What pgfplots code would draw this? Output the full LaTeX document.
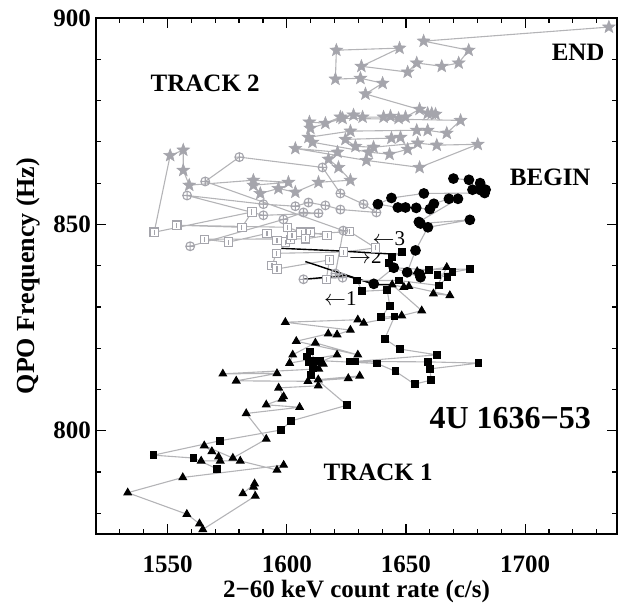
\documentclass[border=0pt]{standalone}
\usepackage{fontspec}
\setmainfont{Liberation Serif}
\usepackage{pgfplots}
\pgfplotsset{compat=1.18}
\definecolor{mgray}{RGB}{165,165,172}
\definecolor{lgray}{RGB}{180,180,183}
\pgfdeclareplotmark{fstar}{%
  \pgfpathmoveto{\pgfpointpolar{90}{\pgfplotmarksize}}%
  \pgfpathlineto{\pgfpointpolar{126}{0.42\pgfplotmarksize}}%
  \pgfpathlineto{\pgfpointpolar{162}{\pgfplotmarksize}}%
  \pgfpathlineto{\pgfpointpolar{198}{0.42\pgfplotmarksize}}%
  \pgfpathlineto{\pgfpointpolar{234}{\pgfplotmarksize}}%
  \pgfpathlineto{\pgfpointpolar{270}{0.42\pgfplotmarksize}}%
  \pgfpathlineto{\pgfpointpolar{306}{\pgfplotmarksize}}%
  \pgfpathlineto{\pgfpointpolar{342}{0.42\pgfplotmarksize}}%
  \pgfpathlineto{\pgfpointpolar{18}{\pgfplotmarksize}}%
  \pgfpathlineto{\pgfpointpolar{54}{0.42\pgfplotmarksize}}%
  \pgfpathclose\pgfusepathqfillstroke}
\pgfdeclareplotmark{boxplus}{%
  \pgfpathrectangle{\pgfpoint{-\pgfplotmarksize}{-\pgfplotmarksize}}{\pgfpoint{2\pgfplotmarksize}{2\pgfplotmarksize}}%
  \pgfusepathqfillstroke
  \pgfpathmoveto{\pgfpoint{0pt}{-0.6\pgfplotmarksize}}%
  \pgfpathlineto{\pgfpoint{0pt}{0.6\pgfplotmarksize}}%
  \pgfusepathqstroke}
\begin{document}
\begin{tikzpicture}
\begin{axis}[
  scale only axis, width=260.5pt, height=258pt,
  xmin=1520, xmax=1738.5, ymin=775, ymax=900,
  xtick={1550,1600,1650,1700}, ytick={800,850,900},
  minor xtick={1530,1540,...,1730}, minor ytick={780,790,...,890},
  tick align=inside, major tick length=5pt, minor tick length=2.6pt,
  axis line style={line width=0.9pt},
  every tick/.style={black, line width=0.6pt},
  /pgf/number format/assume math mode=true,
  /pgf/number format/1000 sep={},
  xticklabel style={font=\fontsize{12.5}{14}\selectfont\bfseries, anchor=base, yshift=-19.25pt},
  yticklabel style={font=\fontsize{12.5}{14}\selectfont\bfseries, xshift=1pt},
  xlabel={2−60 keV count rate (c/s)},
  ylabel={QPO Frequency (Hz)},
  xlabel style={font=\fontsize{12.5}{14}\selectfont\bfseries, at={(axis description cs:0.5,-0.112)}, anchor=center},
  ylabel style={font=\fontsize{13}{15}\selectfont\bfseries, at={(axis description cs:-0.1305,0.5)}, anchor=center},
]
% gray squares (track 2)
\addplot[color=lgray, line width=0.55pt, mark=boxplus, mark size=2.1pt, mark options={draw=mgray, fill=white, line width=0.55pt}] coordinates {
(1544.4,848.1) (1585.4,853.0) (1581.2,849.3) (1553.9,849.8) (1600.3,849.3) (1606.0,848.1) (1609.9,848.1) (1616.9,847.3) (1607.8,846.5) (1565.4,846.4) (1575.5,845.7) (1591.7,847.8) (1595.9,846.1) (1599.4,845.7) (1601.5,846.3) (1602.2,847.3) (1626.3,848.3) (1637.2,844.3) (1623.8,843.3) (1595.6,843.0) (1593.8,840.0) (1595.9,839.2) (1617.9,841.4) (1616.6,836.7)
};
% gray circles
\addplot[color=lgray, line width=0.55pt, mark=oplus, mark size=2.2pt, mark options={draw=mgray, fill=white, line width=0.55pt}] coordinates {
(1559.5,844.7) (1598.6,851.2) (1607.0,852.9) (1613.3,852.7) (1590.2,852.2) (1558.2,857.0) (1590.2,854.9) (1603.6,854.4) (1609.1,855.3) (1616.2,854.6) (1622.5,853.6) (1637.6,852.9) (1632.2,854.9) (1622.5,857.5) (1615.0,863.8) (1580.1,866.3) (1565.8,860.4) (1623.7,848.5) (1620.4,838.1) (1623.4,837.1) (1607.0,836.7)
};
\addplot[color=lgray, line width=0.55pt] coordinates {(1544.4,848.1) (1551.1,866.7)};
% gray stars
\addplot[color=lgray, line width=0.55pt, mark=fstar, mark size=3.3pt, mark options={draw=mgray, fill=mgray, line width=0.3pt}] coordinates {
(1551.1,866.7) (1556.6,868.0) (1556.6,863.1) (1559.1,859.5) (1586.0,860.7) (1600.7,860.2) (1586.0,859.5) (1588.9,857.5) (1596.5,858.7) (1603.6,857.8) (1613.3,860.2) (1626.7,860.7) (1621.7,863.8) (1617.5,865.8) (1621.3,867.5) (1603.6,868.4) (1633.4,865.5) (1655.7,863.8) (1680.1,869.4) (1662.9,869.2) (1654.9,869.7) (1636.4,868.7) (1628.8,868.9) (1624.6,870.6) (1643.9,870.9) (1647.7,871.1) (1650.7,868.2) (1643.1,867.0) (1634.3,867.5) (1610.8,869.9) (1609.1,871.1) (1626.7,872.6) (1654.5,872.8) (1659.1,872.8) (1667.1,872.1) (1672.9,875.2) (1623.4,875.7) (1609.9,873.3) (1609.5,874.8) (1616.2,874.5) (1622.5,876.0) (1628.0,876.5) (1631.8,876.0) (1640.6,876.0) (1643.5,876.2) (1646.9,875.7) (1649.8,876.0) (1655.7,877.9) (1659.1,876.9) (1660.8,876.9) (1662.4,876.7) (1633.0,881.6) (1640.2,884.2) (1630.9,885.4) (1620.4,885.2) (1620.8,892.2) (1647.3,892.7) (1631.3,888.3) (1650.7,886.9) (1654.5,889.1) (1665.0,888.3) (1672.1,889.1) (1676.3,892.2) (1657.4,894.4) (1735.1,897.8)
};
% black connecting lines 1,2,3
\addplot[black, line width=0.7pt] coordinates {(1597.7,844.2) (1621.0,843.6) (1647.7,842.7)};
\addplot[black, line width=0.7pt] coordinates {(1607.8,841.0) (1637.2,835.4) (1644.2,835.4)};
\addplot[black, line width=0.7pt] coordinates {(1607.0,836.7) (1624.6,837.6) (1636.5,835.6)};
% black squares
\addplot[color=lgray, line width=0.55pt, mark=square*, mark size=1.7pt, mark options={draw=black, fill=black}] coordinates {
(1648.4,843.4) (1644.2,842.1) (1642.8,840.6) (1644.7,839.5) (1659.6,839.0) (1676.8,839.2) (1669.5,838.4) (1663.2,837.8) (1667.4,837.2) (1663.8,835.2) (1647.0,836.4) (1629.5,836.4) (1631.6,833.8) (1642.1,834.1) (1643.2,830.3) (1639.6,827.5) (1645.2,827.7) (1641.1,822.3) (1647.4,819.8) (1662.9,818.4) (1628.8,816.8) (1626.7,816.8) (1659.2,816.7) (1680.4,816.4) (1660.0,815.0) (1660.6,812.3) (1653.6,811.3) (1645.6,814.4) (1637.9,816.3) (1613.8,817.0) (1612.0,817.0) (1609.9,819.2) (1608.5,818.0) (1609.2,816.6) (1611.1,815.1) (1610.2,813.6) (1625.3,806.2) (1601.9,802.4) (1597.6,800.2) (1572.1,797.6) (1544.1,794.1) (1560.9,793.4) (1570.7,790.8)
};
% black triangles
\addplot[color=lgray, line width=0.55pt, mark=triangle*, mark size=2.1pt, mark options={draw=black, fill=black}] coordinates {
(1654.7,838.6) (1667.1,839.6) (1661.5,833.2) (1668.4,832.8) (1651.2,835.0) (1649.1,834.8) (1644.2,835.4) (1656.6,829.1) (1648.2,827.9) (1632.3,826.1) (1629.8,826.9) (1599.4,826.3) (1626.7,824.4) (1621.1,823.3) (1617.4,823.5) (1604.0,821.7) (1629.8,818.4) (1612.0,821.3) (1602.5,818.4) (1601.2,816.4) (1621.1,818.4) (1611.3,816.0) (1615.3,816.2) (1613.4,815.0) (1573.2,813.8) (1595.9,813.9) (1578.8,812.1) (1608.9,812.0) (1625.8,812.7) (1630.6,813.3) (1613.2,812.4) (1613.2,810.9) (1596.6,810.4) (1598.7,808.3) (1598.0,807.7) (1591.4,806.3) (1605.4,805.7) (1583.0,804.2) (1591.4,798.0) (1577.4,793.4) (1565.4,796.4) (1568.6,795.0) (1571.4,793.7) (1572.1,792.7) (1564.1,792.7) (1580.5,792.7) (1595.9,790.5) (1598.7,791.7) (1556.4,788.7) (1533.3,785.0) (1558.1,779.8) (1563.4,777.5) (1564.8,776.1) (1586.8,784.2) (1586.1,786.4) (1586.5,787.2) (1581.6,784.8)
};
% black circles
\addplot[color=lgray, line width=0.55pt, mark=*, mark size=2.4pt, mark options={draw=black, fill=black}] coordinates {
(1669.9,861.1) (1676.4,860.8) (1677.9,858.4) (1681.3,858.3) (1681.1,860.0) (1683.4,858.4) (1683.0,857.6) (1657.5,857.5) (1643.9,856.4) (1638.2,854.9) (1646.6,854.1) (1649.8,854.1) (1654.3,854.0) (1660.0,853.7) (1661.7,855.0) (1668.0,856.2) (1671.8,856.2) (1655.4,850.6) (1656.1,850.2) (1676.8,851.1) (1659.2,849.3) (1654.0,843.7) (1650.5,838.4) (1655.8,837.9) (1656.1,837.2) (1644.9,839.5) (1636.5,835.6)
};
% labels
\node[font=\fontsize{12.5}{14}\selectfont\bfseries] at (axis cs:1565.8,884.2) {TRACK 2};
\node[font=\fontsize{12.5}{14}\selectfont\bfseries] at (axis cs:1722.2,891.6) {END};
\node[font=\fontsize{12.5}{14}\selectfont\bfseries] at (axis cs:1710.5,861.5) {BEGIN};
\node[font=\fontsize{12.5}{14}\selectfont\bfseries] at (axis cs:1638.3,789.9) {TRACK 1};
\node[font=\fontsize{16}{18}\selectfont\bfseries] at (axis cs:1693.7,803.2) {4U 1636−53};
\node[font=\fontsize{10.5}{12}\selectfont] at (axis cs:1642.8,846.5) {$\leftarrow$3};
\node[font=\fontsize{10.5}{12}\selectfont] at (axis cs:1633.0,842.2) {$\rightarrow$2};
\node[font=\fontsize{10.5}{12}\selectfont] at (axis cs:1622.5,832.0) {$\leftarrow$1};
\end{axis}
\pgfresetboundingbox
\path ([shift={(-48pt,-35pt)}]current axis.south west) rectangle ([shift={(1pt,9pt)}]current axis.north east);
\end{tikzpicture}
\end{document}
